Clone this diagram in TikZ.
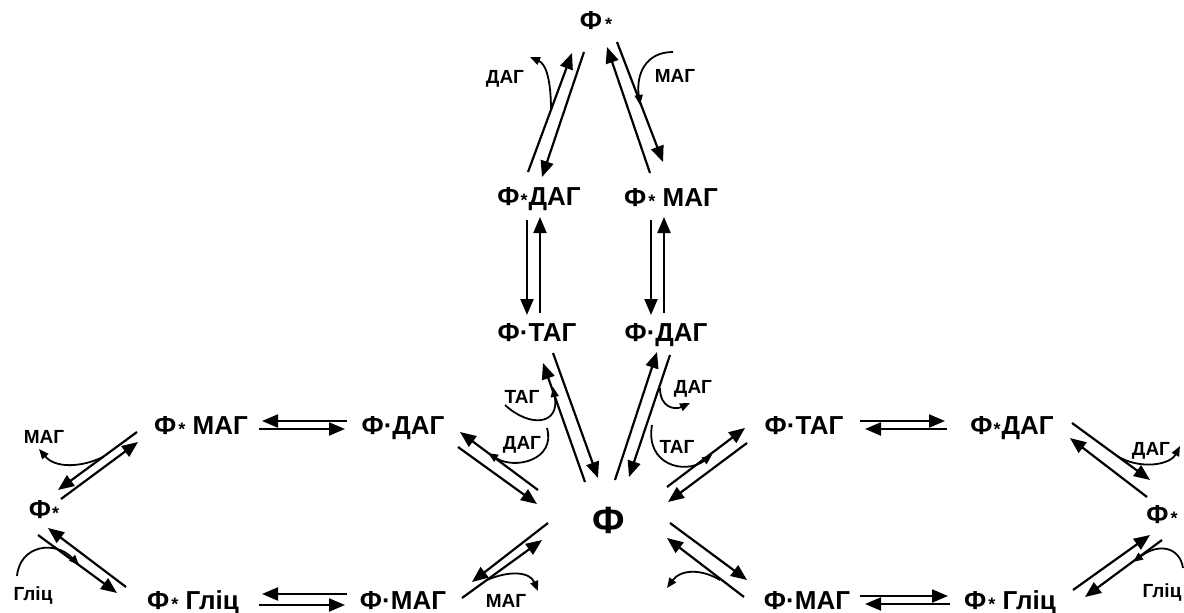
\documentclass[tikz,border=0pt]{standalone}
\usepackage{fontspec}
\setmainfont{Liberation Sans}
\usetikzlibrary{arrows.meta}
\newcommand\myast{{\fontsize{18}{18}\selectfont\raisebox{-1.5pt}{*}}}
\tikzset{
  big/.style={font=\fontsize{26}{26}\selectfont\bfseries, anchor=base, inner sep=0pt},
  huge/.style={font=\fontsize{38}{38}\selectfont\bfseries, anchor=base, inner sep=0pt},
  lab/.style={font=\fontsize{19}{19}\selectfont\bfseries, anchor=base, inner sep=0pt},
  ar/.style={line width=2.2pt, -{Triangle[length=16pt,width=13pt]}},
  cv/.style={line width=1.8pt, -{Triangle[length=10pt,width=8pt]}},
}
\begin{document}
\begin{tikzpicture}[x=1pt,y=-1pt]
\useasboundingbox (0,0) rectangle (1184,613);
% nodes
\node[big] (t)   at (596,29)  {Ф\kern3pt\myast};
\node[big] (tD)  at (539,205) {Ф\kern1pt\myast\kern1pt ДАГ};
\node[big] (tM)  at (671,206) {Ф\kern2pt\myast\ МАГ};
\node[big] (cT)  at (537,341) {Ф·ТАГ};
\node[big] (cD)  at (666,341) {Ф·ДАГ};
\node[huge] (F)  at (609,533) {Ф};
\node[big] (lM)  at (201,434) {Ф\kern2pt\myast\ МАГ};
\node[big] (lD)  at (403,434) {Ф·ДАГ};
\node[big] (lF)  at (44,518)  {Ф\kern1pt\myast};
\node[big] (lG)  at (193,609) {Ф\kern2pt\myast\ Гліц};
\node[big] (lMA) at (403,609) {Ф·МАГ};
\node[big] (rT)  at (804,434) {Ф·ТАГ};
\node[big] (rD)  at (1012,434) {Ф\kern1pt\myast\kern1pt ДАГ};
\node[big] (rF)  at (1162,523) {Ф\kern2pt\myast};
\node[big] (rMA) at (807,609) {Ф·МАГ};
\node[big] (rG)  at (1010,609) {Ф\kern2pt\myast\ Гліц};
% small labels
\node[lab] (l1) at (505,83)  {ДАГ};
\node[lab] (l2) at (675,82)  {МАГ};
\node[lab] (l3) at (522,403) {ТАГ};
\node[lab] (l4) at (522,449) {ДАГ};
\node[lab] (l5) at (693,393) {ДАГ};
\node[lab] (l6) at (677,453) {ТАГ};
\node[lab] (l7) at (506,607) {МАГ};
\node[lab] (l8) at (44,443)  {МАГ};
\node[lab] (l9) at (33,600)  {Гліц};
\node[lab] (l10) at (1151,455) {ДАГ};
\node[lab] (l11) at (1162,597) {Гліц};
% top
\draw[ar] (528,172) -- (572,53);
\draw[ar] (584,52) -- (542,177);
\draw[ar] (650,173) -- (607,47);
\draw[ar] (617,42) -- (663,162);
\draw[cv] (551,110) .. controls (551,80) and (546,64) .. (530,57);
\draw[cv] (673,52) .. controls (645,52) and (636,75) .. (640,105);
% vertical
\draw[ar] (527,220) -- (527,315);
\draw[ar] (540,313) -- (540,217);
\draw[ar] (651,220) -- (651,315);
\draw[ar] (664,313) -- (664,217);
% centre upper
\draw[ar] (553,353) -- (598,478);
\draw[ar] (585,482) -- (543,363);
\draw[ar] (615,480) -- (657,352);
\draw[ar] (670,355) -- (629,477);
\draw[cv] (505,405) .. controls (530,428) and (560,425) .. (553,387);
\draw[cv] (660,388) .. controls (660,408) and (675,410) .. (690,403);
% centre left
\draw[ar] (538,490) -- (460,432);
\draw[ar] (458,447) -- (537,504);
\draw[ar] (548,523) -- (472,582);
\draw[ar] (462,598) -- (542,540);
\draw[cv] (547,428) .. controls (556,460) and (515,470) .. (488,453);
\draw[cv] (487,580) .. controls (510,570) and (530,572) .. (538,591);
% centre right
\draw[ar] (667,487) -- (745,428);
\draw[ar] (747,443) -- (668,502);
\draw[ar] (670,523) -- (747,580);
\draw[ar] (744,597) -- (667,538);
\draw[cv] (652,425) .. controls (645,465) and (685,475) .. (712,455);
\draw[cv] (720,580) .. controls (700,568) and (680,570) .. (667,588);
% left side
\draw[ar] (137,432) -- (58,490);
\draw[ar] (61,499) -- (138,442);
\draw[ar] (38,535) -- (117,593);
\draw[ar] (126,587) -- (48,528);
\draw[cv] (103,457) .. controls (80,468) and (55,468) .. (39,449);
\draw[cv] (17,576) .. controls (20,545) and (55,540) .. (79,565);
% right side
\draw[ar] (1072,423) -- (1150,480);
\draw[ar] (1147,497) -- (1070,438);
\draw[ar] (1073,590) -- (1150,535);
\draw[ar] (1162,540) -- (1085,597);
\draw[cv] (1117,456) .. controls (1140,470) and (1170,465) .. (1180,446);
\draw[cv] (1183,568) .. controls (1180,548) and (1160,542) .. (1133,562);
% horizontal
\draw[ar] (347,421) -- (262,421);
\draw[ar] (259,429) -- (345,429);
\draw[ar] (347,594) -- (262,594);
\draw[ar] (259,605) -- (345,605);
\draw[ar] (860,421) -- (945,421);
\draw[ar] (947,429) -- (865,429);
\draw[ar] (860,596) -- (948,596);
\draw[ar] (950,604) -- (865,604);
\end{tikzpicture}
\end{document}
